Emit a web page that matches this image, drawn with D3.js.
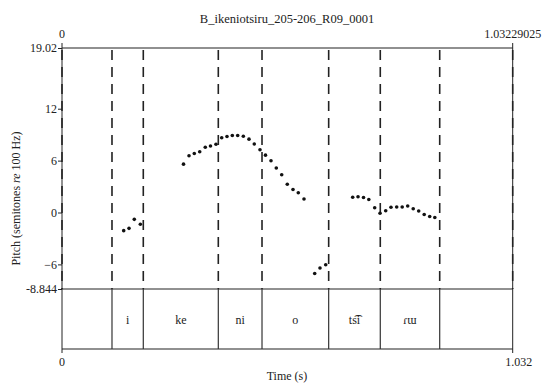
<!DOCTYPE html>
<html><head><meta charset="utf-8">
<script src="https://cdn.jsdelivr.net/npm/d3@7"></script>
<style>body{margin:0;background:#fff}svg{display:block}</style>
</head><body><svg id="c" width="544" height="383"></svg>
<script>
const title = "B_ikeniotsiru_205-206_R09_0001";
const tStart = 0, tEnd = 1.03229025;
const yMin = -8.844, yMax = 19.02;
const yTicks = [12, 6, 0, -6];
const boundaries = [0.1145, 0.1862, 0.3580, 0.4581, 0.6108, 0.7290, 0.8651];
const intervalLabels = ["", "i", "ke", "ni", "o", "ts\u0361i", "\u027E\u026F", ""];
const pitchTimes = [
  0.1413, 0.1535, 0.1656, 0.1794,
  0.2783, 0.2909, 0.3030, 0.3154, 0.3282, 0.3401, 0.3527, 0.3658, 0.3779, 0.3901, 0.4024, 0.4153,
  0.4283, 0.4404, 0.4535, 0.4661, 0.4787, 0.4908, 0.5032, 0.5160, 0.5291, 0.5412, 0.5543,
  0.5788, 0.5909, 0.6040,
  0.6658, 0.6780, 0.6906, 0.7027, 0.7162, 0.7284, 0.7414, 0.7535, 0.7666, 0.7792, 0.7918, 0.8044,
  0.8170, 0.8296, 0.8422, 0.8539
];
const pitchValues = [
  -2.10, -1.83, -0.79, -1.36,
  5.59, 6.56, 6.82, 7.02, 7.54, 7.69, 7.89, 8.65, 8.79, 8.90, 8.90, 8.81,
  8.48, 7.92, 7.26, 6.63, 5.99, 5.15, 4.37, 3.26, 2.66, 2.29, 1.56,
  -7.05, -6.42, -6.04,
  1.76, 1.82, 1.73, 1.50, 0.55, -0.09, 0.21, 0.60, 0.64, 0.64, 0.75, 0.43,
  0.17, -0.23, -0.46, -0.58
];

const FONT = '"Liberation Serif", "Times New Roman", Times, "DejaVu Serif", serif';
const svg = d3.select("#c");
const L = 62, R = 512.7, T = 48, M = 289, B = 349;
const x = d3.scaleLinear().domain([tStart, tEnd]).range([L, R]);
const y = d3.scaleLinear().domain([yMin, yMax]).range([M, T]);
const fs = 12;

function txt(sel) { return sel.style("font-family", FONT).style("font-size", fs + "px").attr("fill", "#222"); }

txt(svg.append("text")).attr("x", 287).attr("y", 23).attr("text-anchor", "middle").style("font-size", "12.5px").text(title);
txt(svg.append("text")).attr("x", x(tStart)).attr("y", 38).attr("text-anchor", "middle").text("0");
txt(svg.append("text")).attr("x", x(tEnd)).attr("y", 38).attr("text-anchor", "middle").text("1.03229025");
txt(svg.append("text")).attr("x", x(tStart)).attr("y", 366).attr("text-anchor", "middle").text("0");
txt(svg.append("text")).attr("x", x(tEnd) + 6).attr("y", 366).attr("text-anchor", "middle").text("1.032");
txt(svg.append("text")).attr("x", 287).attr("y", 380).attr("text-anchor", "middle").text("Time (s)");

const yl = txt(svg.append("text")).attr("transform", `translate(20,${(T + B) / 2}) rotate(-90)`)
  .attr("text-anchor", "middle");
yl.append("tspan").text("Pitch (semitones ");
yl.append("tspan").style("font-style", "italic").text("re");
yl.append("tspan").text(" 100 Hz)");

const g = svg.append("g").attr("stroke", "#222").attr("fill", "none");
g.append("line").attr("x1", L).attr("x2", R).attr("y1", T).attr("y2", T).attr("stroke-width", 1.2);
g.append("line").attr("x1", L).attr("x2", R).attr("y1", M).attr("y2", M).attr("stroke-width", 1);
g.append("line").attr("x1", L).attr("x2", R).attr("y1", B).attr("y2", B).attr("stroke-width", 1.2);
g.append("line").attr("x1", L).attr("x2", L).attr("y1", T - 5).attr("y2", B + 4).attr("stroke-width", 1);
g.append("line").attr("x1", R).attr("x2", R).attr("y1", T - 5).attr("y2", B + 4).attr("stroke-width", 1);

const yAxis = d3.axisLeft(y).tickValues([yMax].concat(yTicks).concat([yMin]))
  .tickSize(4).tickPadding(1)
  .tickFormat(d => d === yMax ? "19.02" : d === yMin ? "-8.844" : d3.format("d")(d));
const ya = svg.append("g").attr("transform", `translate(${L},0)`).call(yAxis);
ya.attr("font-family", null).attr("font-size", null);
ya.select(".domain").remove();
ya.selectAll(".tick line").attr("stroke", "#222");
txt(ya.selectAll(".tick text"));

const dashB = [tStart].concat(boundaries).concat([tEnd]);
svg.append("g").selectAll("line").data(dashB).join("line")
  .attr("x1", d => x(d)).attr("x2", d => x(d)).attr("y1", T + 2).attr("y2", M)
  .attr("stroke", "#222").attr("stroke-width", 1.6).attr("stroke-dasharray", "10,7");

svg.append("g").selectAll("line").data(boundaries).join("line")
  .attr("x1", d => x(d)).attr("x2", d => x(d)).attr("y1", M).attr("y2", B)
  .attr("stroke", "#333").attr("stroke-width", 1.2);

const edges = [tStart].concat(boundaries).concat([tEnd]);
txt(svg.append("g").selectAll("text").data(intervalLabels).join("text"))
  .attr("x", (d, i) => x((edges[i] + edges[i + 1]) / 2)).attr("y", 324)
  .attr("text-anchor", "middle").text(d => d);

svg.append("g").selectAll("circle").data(pitchTimes).join("circle")
  .attr("cx", d => x(d)).attr("cy", (d, i) => y(pitchValues[i])).attr("r", 1.8).attr("fill", "#111");
</script></body></html>
